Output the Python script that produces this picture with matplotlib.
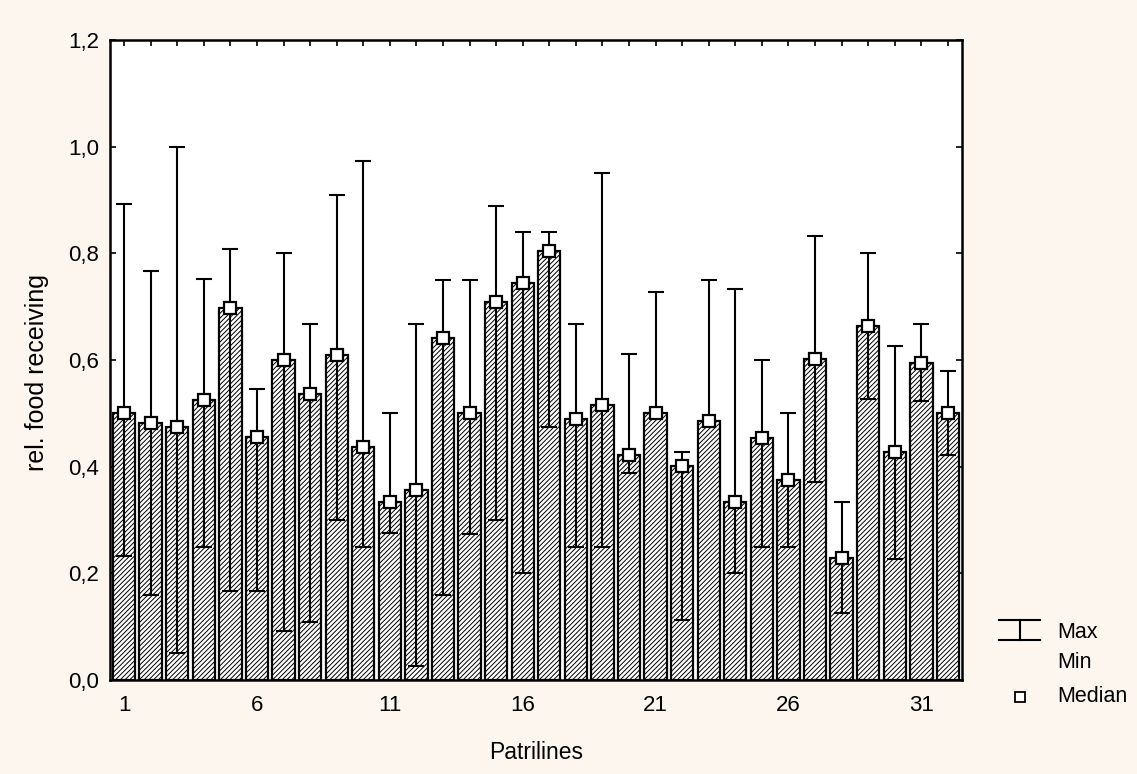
import matplotlib.pyplot as plt
import numpy as np
from matplotlib.lines import Line2D

# Relative food receiving per patriline: median, min and max
patrilines = np.arange(1, 33)
median = [0.500, 0.482, 0.475, 0.525, 0.698, 0.455, 0.600, 0.536, 0.609, 0.437,
          0.334, 0.357, 0.642, 0.500, 0.709, 0.745, 0.804, 0.490, 0.516, 0.421,
          0.500, 0.401, 0.486, 0.333, 0.454, 0.375, 0.601, 0.228, 0.664, 0.427,
          0.595, 0.500]
vmin = [0.233, 0.159, 0.050, 0.250, 0.167, 0.167, 0.091, 0.108, 0.300, 0.250,
        0.275, 0.026, 0.160, 0.273, 0.300, 0.200, 0.475, 0.250, 0.250, 0.389,
        0.500, 0.112, 0.486, 0.200, 0.250, 0.250, 0.371, 0.125, 0.526, 0.227,
        0.524, 0.422]
vmax = [0.893, 0.767, 1.000, 0.751, 0.809, 0.546, 0.800, 0.667, 0.910, 0.974,
        0.500, 0.667, 0.750, 0.750, 0.889, 0.840, 0.840, 0.667, 0.951, 0.611,
        0.727, 0.428, 0.750, 0.733, 0.600, 0.500, 0.833, 0.333, 0.800, 0.626,
        0.667, 0.579]
yticks = [0.0, 0.2, 0.4, 0.6, 0.8, 1.0, 1.2]
xlabels = [str(p) if (p - 1) % 5 == 0 else "" for p in patrilines]

bg = "#fdf6ef"
plt.rcParams["font.family"] = ["Liberation Sans", "DejaVu Sans"]
plt.rcParams["hatch.linewidth"] = 0.7

fig = plt.figure(figsize=(11.37, 7.74), dpi=100, facecolor=bg)
ax = fig.add_axes([110 / 1137, 1 - 680 / 774, 852 / 1137, 640 / 774])
ax.set_facecolor("white")

ax.bar(patrilines, median, width=0.84, color="white", edgecolor="black",
       linewidth=1.6, hatch="///////", zorder=2)
med = np.array(median)
ax.errorbar(patrilines, med, yerr=[med - np.array(vmin), np.array(vmax) - med],
            fmt="none", ecolor="black", elinewidth=1.5, capsize=6, capthick=1.5,
            zorder=3)
ax.plot(patrilines, median, ls="none", marker="s", ms=8.5, mfc="white",
        mec="black", mew=1.6, zorder=4)

ax.set_xlim(0.47, 32.53)
ax.set_ylim(0, 1.2)
ax.set_xticks(patrilines)
ax.set_xticklabels(xlabels, fontsize=16)
ax.set_yticks(yticks)
ax.set_yticklabels([f"{t:.1f}".replace(".", ",") for t in yticks], fontsize=16)
ax.tick_params(axis="both", direction="in", length=4, width=1.2,
               top=True, right=True)
ax.tick_params(axis="x", pad=11)
ax.tick_params(axis="y", pad=8)
for s in ax.spines.values():
    s.set_linewidth(1.8)

ax.set_ylabel("rel. food receiving", fontsize=18)
ax.yaxis.set_label_coords(-0.072, 0.481)
ax.set_xlabel("Patrilines", fontsize=16.5)
ax.xaxis.set_label_coords(0.5, -0.095)

# Legend drawn beside the plot area
W, H = 1137, 774
def fx(px):
    return px / W
def fy(py):
    return 1 - py / H

tr = fig.transFigure
fig.add_artist(Line2D([fx(999), fx(1040)], [fy(620), fy(620)], color="black", lw=1.5, transform=tr))
fig.add_artist(Line2D([fx(999), fx(1040)], [fy(640), fy(640)], color="black", lw=1.5, transform=tr))
fig.add_artist(Line2D([fx(1020), fx(1020)], [fy(620), fy(640)], color="black", lw=1.5, transform=tr))
fig.add_artist(Line2D([fx(1020)], [fy(697)], ls="none", marker="s", ms=7,
                      mfc="white", mec="black", mew=1.3, transform=tr))
fig.text(fx(1057), fy(633), "Max", fontsize=15.5, va="center", ha="left")
fig.text(fx(1057), fy(662), "Min", fontsize=15.5, va="center", ha="left")
fig.text(fx(1057), fy(697), "Median", fontsize=15.5, va="center", ha="left")

fig.savefig("out.png", dpi=100, facecolor=bg)
